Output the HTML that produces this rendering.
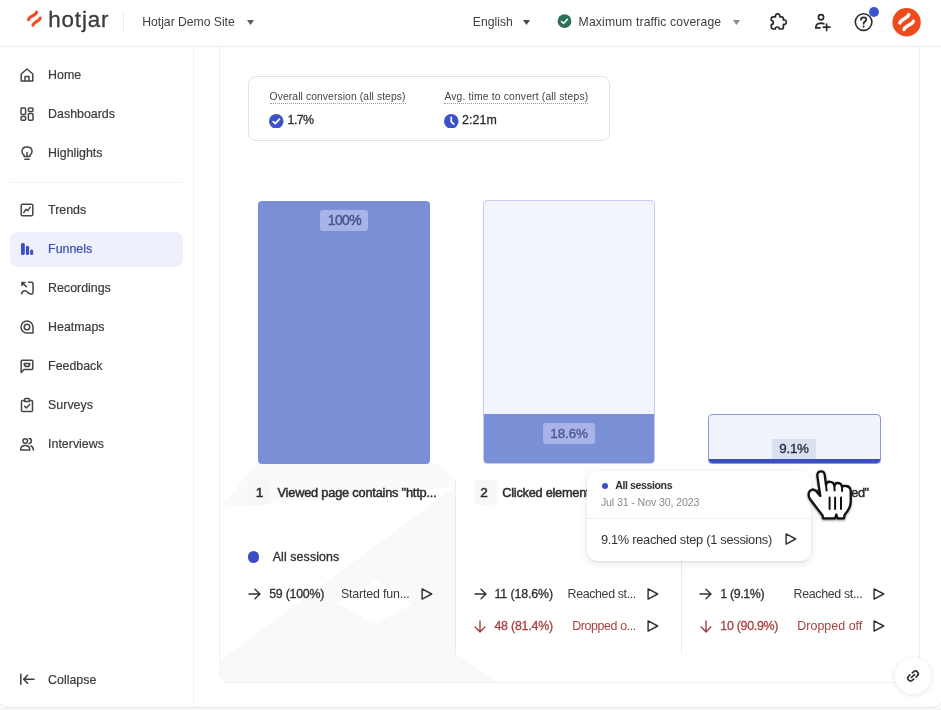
<!DOCTYPE html>
<html><head><meta charset="utf-8"><style>
html,body{margin:0;padding:0;}
body{width:941px;height:710px;position:relative;overflow:hidden;background:#fff;font-family:"Liberation Sans",sans-serif;}
.t{position:absolute;white-space:nowrap;}
#w{position:absolute;left:0;top:0;width:941px;height:710px;will-change:transform;}
</style></head><body><div id="w">
<div style="position:absolute;left:218.5px;top:30px;width:701.5px;height:653px;border:1px solid #f0f0f0;border-radius:10px;box-sizing:border-box"></div>
<div style="position:absolute;left:0;top:0;width:941px;height:46px;background:#fff"></div>
<div style="position:absolute;left:0;top:46px;width:941px;height:1px;background:#ebebeb"></div>
<svg style="position:absolute;left:20px;top:5px" width="30" height="30" viewBox="0 0 30 30">
<path d="M8.5 14.6 C9.5 10.6 15.6 11.2 16.6 7.2" stroke="#f04a1d" stroke-width="3.1" fill="none" stroke-linecap="round"/>
<path d="M12.9 20.2 C13.9 16.2 19.2 17.1 20.2 13.1" stroke="#f04a1d" stroke-width="3.1" fill="none" stroke-linecap="round"/>
</svg>
<div class="t" style="left:48.30px;top:9.00px;font-size:22.4px;line-height:22.4px;color:#3a3a3a;font-weight:normal;letter-spacing:0.828px;-webkit-text-stroke:0.3px #3a3a3a;">hotjar</div>
<div style="position:absolute;left:123px;top:11px;width:1px;height:21px;background:#ececec"></div>
<div class="t" style="left:142.30px;top:16.00px;font-size:12.2px;line-height:12.2px;color:#3f3f3f;font-weight:normal;letter-spacing:-0.024px;">Hotjar Demo Site</div>
<svg style="position:absolute;left:246.5px;top:19.6px" width="7" height="5" viewBox="0 0 7 5"><path d="M0 0 L7 0 L3.5 5 Z" fill="#5a5a5a"/></svg>
<div class="t" style="left:472.80px;top:16.00px;font-size:12.2px;line-height:12.2px;color:#3f3f3f;font-weight:normal;letter-spacing:-0.002px;">English</div>
<svg style="position:absolute;left:523.3px;top:19.6px" width="7" height="5" viewBox="0 0 7 5"><path d="M0 0 L7 0 L3.5 5 Z" fill="#4a4a4a"/></svg>
<svg style="position:absolute;left:556.5px;top:14px" width="15" height="15" viewBox="0 0 15 15"><circle cx="7.5" cy="7.2" r="6.9" fill="#2f6e5c"/><path d="M4.5 7.5 L6.6 9.5 L10.4 5.3" stroke="#fff" stroke-width="1.5" fill="none" stroke-linecap="round" stroke-linejoin="round"/></svg>
<div class="t" style="left:578.60px;top:16.00px;font-size:12.2px;line-height:12.2px;color:#3f3f3f;font-weight:normal;letter-spacing:0.140px;">Maximum traffic coverage</div>
<svg style="position:absolute;left:732.8px;top:19.6px" width="7" height="5" viewBox="0 0 7 5"><path d="M0 0 L7 0 L3.5 5 Z" fill="#8a8a8a"/></svg>
<svg style="position:absolute;left:769px;top:12px" width="20" height="20" viewBox="0 0 20 20"><path d="M4.3 4.9 L6.5 4.9 A2.3 2.3 0 1 1 10.9 4.9 L12.4 4.9 Q14.4 4.9 14.4 6.9 L14.4 8 A2.3 2.3 0 1 1 14.4 12.4 L14.4 15 Q14.4 17 12.4 17 L10.3 17 A2 2 0 1 0 6.3 17 L4.3 17 Q2.3 17 2.3 15 L2.3 12.5 A2 2 0 1 0 2.3 8.5 L2.3 6.9 Q2.3 4.9 4.3 4.9 Z" stroke="#2b2b2b" stroke-width="1.7" fill="none" stroke-linejoin="round"/></svg>
<svg style="position:absolute;left:813px;top:12px" width="19" height="20" viewBox="0 0 19 20"><circle cx="8" cy="5.3" r="2.6" stroke="#2b2b2b" stroke-width="1.7" fill="none"/><path d="M2.8 15.8 Q2.8 11.4 7.8 11.2 Q9.6 11.2 10.8 11.8" stroke="#2b2b2b" stroke-width="1.7" fill="none" stroke-linecap="round"/><path d="M2.8 15.8 L7 15.8" stroke="#2b2b2b" stroke-width="1.7" stroke-linecap="round"/><path d="M13.6 12 L13.6 18.4 M10.4 15.2 L16.8 15.2" stroke="#2b2b2b" stroke-width="1.7" stroke-linecap="round"/></svg>
<svg style="position:absolute;left:853.8px;top:11.8px" width="20" height="20" viewBox="0 0 20 20"><circle cx="9.6" cy="10.1" r="8.3" stroke="#2b2b2b" stroke-width="1.6" fill="none"/><path d="M7 7.8 Q7 5.3 9.6 5.3 Q12.2 5.3 12.2 7.6 Q12.2 9.1 10.6 9.9 Q9.6 10.4 9.6 11.8" stroke="#2b2b2b" stroke-width="1.8" fill="none" stroke-linecap="round"/><circle cx="9.6" cy="14.6" r="1.05" fill="#2b2b2b"/></svg>
<div style="position:absolute;left:869px;top:6.5px;width:10px;height:10px;border-radius:50%;background:#3b55d0"></div>
<svg style="position:absolute;left:891.5px;top:7.5px" width="29" height="29" viewBox="0 0 29 29"><circle cx="14.6" cy="14.2" r="14.2" fill="#ef4a1c"/>
<path d="M7.8 15 C9 10.5 15.7 11 16.9 6.5" stroke="#fff" stroke-width="3.3" fill="none" stroke-linecap="round"/>
<path d="M12 21.6 C13.2 17.1 20.2 17.6 21.4 13.1" stroke="#fff" stroke-width="3.3" fill="none" stroke-linecap="round"/></svg>
<div style="position:absolute;left:193px;top:47px;width:1px;height:660px;background:#f2f2f2"></div>
<div style="position:absolute;left:10px;top:181.5px;width:173px;height:1px;background:#f0f0f0"></div>
<div style="position:absolute;left:10px;top:231.5px;width:173px;height:35px;border-radius:8px;background:#eef0fb"></div>
<div class="t" style="left:48.10px;top:69.00px;font-size:12.4px;line-height:12.4px;color:#3b3b3b;font-weight:normal;letter-spacing:0.000px;-webkit-text-stroke:0.2px #3b3b3b;">Home</div>
<div class="t" style="left:48.10px;top:108.00px;font-size:12.4px;line-height:12.4px;color:#3b3b3b;font-weight:normal;letter-spacing:0.000px;-webkit-text-stroke:0.2px #3b3b3b;">Dashboards</div>
<div class="t" style="left:48.10px;top:147.00px;font-size:12.4px;line-height:12.4px;color:#3b3b3b;font-weight:normal;letter-spacing:0.000px;-webkit-text-stroke:0.2px #3b3b3b;">Highlights</div>
<div class="t" style="left:48.10px;top:204.00px;font-size:12.4px;line-height:12.4px;color:#3b3b3b;font-weight:normal;letter-spacing:0.000px;-webkit-text-stroke:0.2px #3b3b3b;">Trends</div>
<div class="t" style="left:48.10px;top:243.00px;font-size:12.4px;line-height:12.4px;color:#3a4db3;font-weight:normal;letter-spacing:0.000px;-webkit-text-stroke:0.2px #3a4db3;">Funnels</div>
<div class="t" style="left:48.10px;top:282.00px;font-size:12.4px;line-height:12.4px;color:#3b3b3b;font-weight:normal;letter-spacing:0.000px;-webkit-text-stroke:0.2px #3b3b3b;">Recordings</div>
<div class="t" style="left:48.10px;top:321.00px;font-size:12.4px;line-height:12.4px;color:#3b3b3b;font-weight:normal;letter-spacing:0.000px;-webkit-text-stroke:0.2px #3b3b3b;">Heatmaps</div>
<div class="t" style="left:48.10px;top:360.00px;font-size:12.4px;line-height:12.4px;color:#3b3b3b;font-weight:normal;letter-spacing:0.000px;-webkit-text-stroke:0.2px #3b3b3b;">Feedback</div>
<div class="t" style="left:48.10px;top:399.00px;font-size:12.4px;line-height:12.4px;color:#3b3b3b;font-weight:normal;letter-spacing:0.000px;-webkit-text-stroke:0.2px #3b3b3b;">Surveys</div>
<div class="t" style="left:48.10px;top:438.00px;font-size:12.4px;line-height:12.4px;color:#3b3b3b;font-weight:normal;letter-spacing:0.000px;-webkit-text-stroke:0.2px #3b3b3b;">Interviews</div>
<div class="t" style="left:48.10px;top:674.00px;font-size:12.4px;line-height:12.4px;color:#3b3b3b;font-weight:normal;letter-spacing:0.000px;-webkit-text-stroke:0.2px #3b3b3b;">Collapse</div>
<svg style="position:absolute;left:19px;top:67px" width="16" height="16" viewBox="0 0 16 16" fill="none" stroke="#454545" stroke-width="1.5" stroke-linejoin="round" stroke-linecap="round"><path d="M2.2 7 L8 2 L13.8 7 L13.8 14 L2.2 14 Z"/><path d="M6 14 L6 9.5 L10 9.5 L10 14"/></svg>
<svg style="position:absolute;left:19px;top:106px" width="16" height="16" viewBox="0 0 16 16" fill="none" stroke="#454545" stroke-width="1.5" stroke-linejoin="round" stroke-linecap="round"><rect x="2" y="2" width="4.6" height="6.6" rx="1"/><rect x="2" y="10.6" width="4.6" height="3.6" rx="1"/><rect x="9.4" y="2" width="4.6" height="3.6" rx="1"/><rect x="9.4" y="7.6" width="4.6" height="6.6" rx="1"/></svg>
<svg style="position:absolute;left:19px;top:145px" width="16" height="16" viewBox="0 0 16 16" fill="none" stroke="#454545" stroke-width="1.5" stroke-linejoin="round" stroke-linecap="round"><path d="M5 10.2 Q3 8.8 3 6.4 Q3 2 8 2 Q13 2 13 6.4 Q13 8.8 11 10.2 L11 11.6 L5 11.6 Z"/><path d="M8 11.5 L8 7.5"/><path d="M5.8 14.2 L10.2 14.2"/></svg>
<svg style="position:absolute;left:19px;top:202px" width="16" height="16" viewBox="0 0 16 16" fill="none" stroke="#454545" stroke-width="1.5" stroke-linejoin="round" stroke-linecap="round"><rect x="2.2" y="2.2" width="11.6" height="11.6" rx="1.4"/><path d="M4.8 10.6 L7 7.2 L8.8 8.8 L11.2 5.2"/></svg>
<svg style="position:absolute;left:19px;top:241px" width="16" height="16" viewBox="0 0 16 16" fill="#3a4fc0"><rect x="2" y="2" width="3.8" height="12" rx="1.6"/><rect x="6.9" y="4.7" width="3.2" height="9.3" rx="1.5"/><rect x="11.1" y="8.4" width="3.1" height="5.6" rx="1.5"/></svg>
<svg style="position:absolute;left:19px;top:280px" width="16" height="16" viewBox="0 0 16 16" fill="none" stroke="#454545" stroke-width="1.5" stroke-linejoin="round" stroke-linecap="round"><path d="M9.5 2.2 L12.5 2.2 Q14 2.2 14 3.8 L14 12.5 Q14 14 12.5 14 Q9.5 14 8.2 11.8 Q7 10 4.6 11 Q3 11.8 2.5 13.8"/><path d="M3 2.4 L7.4 6.8 M3 2.4 L3 5.4 M3 2.4 L6 2.4"/></svg>
<svg style="position:absolute;left:19px;top:319px" width="16" height="16" viewBox="0 0 16 16" fill="none" stroke="#454545" stroke-width="1.5" stroke-linejoin="round" stroke-linecap="round"><path d="M14 14 L8 14 A6 6 0 1 1 14 8 Z"/><circle cx="8" cy="8" r="2.8"/></svg>
<svg style="position:absolute;left:19px;top:358px" width="16" height="16" viewBox="0 0 16 16" fill="none" stroke="#454545" stroke-width="1.5" stroke-linejoin="round" stroke-linecap="round"><path d="M2.2 14.4 L2.2 3.2 Q2.2 2.2 3.2 2.2 L12.8 2.2 Q13.8 2.2 13.8 3.2 L13.8 10.4 Q13.8 11.4 12.8 11.4 L5 11.4 Z"/><path d="M5.2 5.4 L10.8 5.4 Q10.8 8.6 8 8.6 Q5.2 8.6 5.2 5.4 Z"/></svg>
<svg style="position:absolute;left:19px;top:397px" width="16" height="16" viewBox="0 0 16 16" fill="none" stroke="#454545" stroke-width="1.5" stroke-linejoin="round" stroke-linecap="round"><path d="M5.6 3.5 L3.5 3.5 Q2.5 3.5 2.5 4.5 L2.5 13.5 Q2.5 14.5 3.5 14.5 L12.5 14.5 Q13.5 14.5 13.5 13.5 L13.5 4.5 Q13.5 3.5 12.5 3.5 L10.4 3.5"/><path d="M5.6 4.6 L5.6 2.5 Q5.6 1.6 6.5 1.6 L9.5 1.6 Q10.4 1.6 10.4 2.5 L10.4 4.6 Z"/><path d="M5.6 9.2 L7.3 10.9 L10.6 7.4"/></svg>
<svg style="position:absolute;left:19px;top:436px" width="16" height="16" viewBox="0 0 16 16" fill="none" stroke="#454545" stroke-width="1.5" stroke-linejoin="round" stroke-linecap="round"><circle cx="6.2" cy="5" r="2.3"/><path d="M10 2.6 A2.3 2.3 0 1 1 10 7.4"/><path d="M1.6 14 Q1.6 9.6 6.2 9.6 Q10.8 9.6 10.8 14 Z"/><path d="M12 10 Q14.4 10.8 14.4 14"/></svg>
<svg style="position:absolute;left:19px;top:672px" width="16" height="14" viewBox="0 0 16 14" fill="none" stroke="#3b3b3b" stroke-width="1.5" stroke-linecap="round" stroke-linejoin="round"><path d="M1.8 2.2 L1.8 12.2"/><path d="M15 7.2 L4.6 7.2 M8.6 3.2 L4.6 7.2 L8.6 11.2"/></svg>
<svg style="position:absolute;left:0;top:0" width="941" height="710" viewBox="0 0 941 710">
<path fill-rule="evenodd" d="M219.5 661 L455 487 L455 653 L497 682 L229 682 Q219.5 682 219.5 672 Z M338 603 L376 580 L412 604.6 L374 624 Z" fill="#f8f9fb"/>
<path d="M257 463 L437 463 L455 478 L455 487 L219.5 508 Z" fill="#f9fafc"/>
</svg>
<div style="position:absolute;left:247.5px;top:76px;width:362px;height:64.5px;border:1px solid #e3e3e3;border-radius:8px;box-sizing:border-box"></div>
<div class="t" style="left:269.60px;top:92.00px;font-size:10.3px;line-height:10.3px;color:#444;font-weight:normal;letter-spacing:0.107px;">Overall conversion (all steps)</div>
<div style="position:absolute;left:269.6px;top:102.5px;width:136px;height:0;border-top:1px dotted #9a9a9a"></div>
<div class="t" style="left:444.40px;top:92.00px;font-size:10.3px;line-height:10.3px;color:#444;font-weight:normal;letter-spacing:0.177px;">Avg. time to convert (all steps)</div>
<div style="position:absolute;left:444.4px;top:102.5px;width:144px;height:0;border-top:1px dotted #9a9a9a"></div>
<svg style="position:absolute;left:269px;top:113.5px" width="14.5" height="14.5" viewBox="0 0 14 14"><circle cx="7" cy="7" r="7" fill="#3b53c6"/><path d="M4 7.3 L6.1 9.3 L10 5" stroke="#fff" stroke-width="1.7" fill="none" stroke-linecap="round" stroke-linejoin="round"/></svg>
<div class="t" style="left:287.60px;top:114.00px;font-size:12.4px;line-height:12.4px;color:#2e2e2e;font-weight:normal;letter-spacing:-0.566px;-webkit-text-stroke:0.3px #2e2e2e;">1.7%</div>
<svg style="position:absolute;left:444.4px;top:113.5px" width="14.5" height="14.5" viewBox="0 0 14 14"><circle cx="7" cy="7" r="7" fill="#3b53c6"/><path d="M7 3.2 L7 7.4 L9.4 9.8" stroke="#fff" stroke-width="1.7" fill="none" stroke-linecap="round" stroke-linejoin="round"/></svg>
<div class="t" style="left:462.00px;top:114.00px;font-size:12.4px;line-height:12.4px;color:#2e2e2e;font-weight:normal;letter-spacing:0.107px;-webkit-text-stroke:0.3px #2e2e2e;">2:21m</div>
<div style="position:absolute;left:258px;top:200.5px;width:172px;height:263px;border-radius:4px;background:#7b8fd7"></div>
<div style="position:absolute;left:319.7px;top:209.6px;width:48.6px;height:21px;border-radius:3px;background:#a8b4e7"></div>
<div class="t" style="left:327.70px;top:213.00px;font-size:14px;line-height:14px;color:#4b5690;font-weight:normal;letter-spacing:-0.577px;-webkit-text-stroke:0.5px #4b5690;">100%</div>
<div style="position:absolute;left:482.8px;top:200px;width:172.7px;height:263.5px;border-radius:4px;background:#f3f5fc;border:1px solid #c3ccee;box-sizing:border-box;overflow:hidden"><div style="position:absolute;left:0;right:0;bottom:0;height:49px;background:#7b8fd7"></div></div>
<div style="position:absolute;left:542.9px;top:423.4px;width:52.5px;height:20.8px;border-radius:3px;background:#a8b4e7"></div>
<div class="t" style="left:550.30px;top:427.00px;font-size:13.4px;line-height:13.4px;color:#4b5690;font-weight:normal;letter-spacing:-0.059px;-webkit-text-stroke:0.35px #4b5690;">18.6%</div>
<div style="position:absolute;left:708px;top:413.8px;width:173px;height:49.8px;border-radius:4px;background:#f1f3fb;border:1px solid #8a9ad9;box-sizing:border-box;overflow:hidden"><div style="position:absolute;left:0;right:0;bottom:0;height:4px;background:#3b4fc4"></div></div>
<div style="position:absolute;left:772px;top:439px;width:44px;height:20px;background:#dadff2"></div>
<div class="t" style="left:779.30px;top:442.00px;font-size:13.4px;line-height:13.4px;color:#2a2d3a;font-weight:normal;letter-spacing:-0.286px;-webkit-text-stroke:0.35px #2a2d3a;">9.1%</div>
<div style="position:absolute;left:455px;top:480px;width:1px;height:174px;background:#ececec"></div>
<div style="position:absolute;left:680.5px;top:480px;width:1px;height:174px;background:#ececec"></div>
<div style="position:absolute;left:247.7px;top:480.3px;width:22.8px;height:24.5px;border-radius:5px;background:#f6f7f9"></div>
<div style="position:absolute;left:474.3px;top:480.3px;width:22.8px;height:24.5px;border-radius:5px;background:#f6f7f9"></div>
<div style="position:absolute;left:699.5px;top:480.3px;width:22.8px;height:24.5px;border-radius:5px;background:#f6f7f9"></div>
<div class="t" style="left:255.80px;top:486.00px;font-size:13.6px;line-height:13.6px;color:#2b2b2b;font-weight:normal;letter-spacing:0.000px;-webkit-text-stroke:0.5px #2b2b2b;">1</div>
<div class="t" style="left:277.50px;top:487.00px;font-size:12.8px;line-height:12.8px;color:#2b2b2b;font-weight:normal;letter-spacing:-0.211px;-webkit-text-stroke:0.45px #2b2b2b;">Viewed page contains &quot;http...</div>
<div class="t" style="left:480.20px;top:486.00px;font-size:13.6px;line-height:13.6px;color:#2b2b2b;font-weight:normal;letter-spacing:0.000px;-webkit-text-stroke:0.5px #2b2b2b;">2</div>
<div class="t" style="left:502.30px;top:487.00px;font-size:12.8px;line-height:12.8px;color:#2b2b2b;font-weight:normal;letter-spacing:-0.272px;-webkit-text-stroke:0.45px #2b2b2b;">Clicked element contains</div>
<div class="t" style="left:721.00px;top:487.00px;font-size:12.8px;line-height:12.8px;color:#2b2b2b;font-weight:normal;letter-spacing:-0.538px;-webkit-text-stroke:0.45px #2b2b2b;">Viewed page contains &quot;...ed&quot;</div>
<div style="position:absolute;left:247.5px;top:551px;width:11.5px;height:11.5px;border-radius:50%;background:#3b4fc4"></div>
<div class="t" style="left:272.70px;top:551.00px;font-size:12.4px;line-height:12.4px;color:#2e2e2e;font-weight:normal;letter-spacing:0.103px;-webkit-text-stroke:0.3px #2e2e2e;">All sessions</div>
<svg style="position:absolute;left:248.2px;top:588px" width="13" height="12" viewBox="0 0 13 12" fill="none" stroke="#333" stroke-width="1.4" stroke-linecap="round" stroke-linejoin="round"><path d="M1 6 L12 6 M7 1.2 L12 6 L7 10.8"/></svg>
<div class="t" style="left:269.20px;top:588.00px;font-size:12.4px;line-height:12.4px;color:#2e2e2e;font-weight:normal;letter-spacing:-0.246px;-webkit-text-stroke:0.3px #2e2e2e;">59 (100%)</div>
<div class="t" style="left:341.00px;top:588.00px;font-size:12.4px;line-height:12.4px;color:#3b3b3b;font-weight:normal;letter-spacing:-0.178px;">Started fun...</div>
<svg style="position:absolute;left:421px;top:588px" width="12" height="12" viewBox="0 0 12 12" fill="none" stroke="#333" stroke-width="1.45" stroke-linejoin="round"><path d="M1.1 0.9 L10.7 6 L1.1 11.1 Z"/></svg>
<svg style="position:absolute;left:473.5px;top:588px" width="13" height="12" viewBox="0 0 13 12" fill="none" stroke="#333" stroke-width="1.4" stroke-linecap="round" stroke-linejoin="round"><path d="M1 6 L12 6 M7 1.2 L12 6 L7 10.8"/></svg>
<div class="t" style="left:494.40px;top:588.00px;font-size:12.4px;line-height:12.4px;color:#2e2e2e;font-weight:normal;letter-spacing:-0.104px;-webkit-text-stroke:0.3px #2e2e2e;">11 (18.6%)</div>
<div class="t" style="left:567.60px;top:588.00px;font-size:12.4px;line-height:12.4px;color:#3b3b3b;font-weight:normal;letter-spacing:-0.359px;">Reached st...</div>
<svg style="position:absolute;left:647px;top:588px" width="12" height="12" viewBox="0 0 12 12" fill="none" stroke="#333" stroke-width="1.45" stroke-linejoin="round"><path d="M1.1 0.9 L10.7 6 L1.1 11.1 Z"/></svg>
<svg style="position:absolute;left:474.2px;top:620px" width="12" height="13" viewBox="0 0 12 13" fill="none" stroke="#a5403f" stroke-width="1.4" stroke-linecap="round" stroke-linejoin="round"><path d="M6 1 L6 12 M1.2 7 L6 12 L10.8 7"/></svg>
<div class="t" style="left:494.40px;top:620.00px;font-size:12.4px;line-height:12.4px;color:#a8403f;font-weight:normal;letter-spacing:-0.206px;-webkit-text-stroke:0.3px #a8403f;">48 (81.4%)</div>
<div class="t" style="left:572.20px;top:620.00px;font-size:12.4px;line-height:12.4px;color:#a8403f;font-weight:normal;letter-spacing:-0.370px;">Dropped o...</div>
<svg style="position:absolute;left:647px;top:620px" width="12" height="12" viewBox="0 0 12 12" fill="none" stroke="#333" stroke-width="1.45" stroke-linejoin="round"><path d="M1.1 0.9 L10.7 6 L1.1 11.1 Z"/></svg>
<svg style="position:absolute;left:699px;top:588px" width="13" height="12" viewBox="0 0 13 12" fill="none" stroke="#333" stroke-width="1.4" stroke-linecap="round" stroke-linejoin="round"><path d="M1 6 L12 6 M7 1.2 L12 6 L7 10.8"/></svg>
<div class="t" style="left:720.30px;top:588.00px;font-size:12.4px;line-height:12.4px;color:#2e2e2e;font-weight:normal;letter-spacing:-0.370px;-webkit-text-stroke:0.3px #2e2e2e;">1 (9.1%)</div>
<div class="t" style="left:793.50px;top:588.00px;font-size:12.4px;line-height:12.4px;color:#3b3b3b;font-weight:normal;letter-spacing:-0.320px;">Reached st...</div>
<svg style="position:absolute;left:872.5px;top:588px" width="12" height="12" viewBox="0 0 12 12" fill="none" stroke="#333" stroke-width="1.45" stroke-linejoin="round"><path d="M1.1 0.9 L10.7 6 L1.1 11.1 Z"/></svg>
<svg style="position:absolute;left:699.5px;top:620px" width="12" height="13" viewBox="0 0 12 13" fill="none" stroke="#a5403f" stroke-width="1.4" stroke-linecap="round" stroke-linejoin="round"><path d="M6 1 L6 12 M1.2 7 L6 12 L10.8 7"/></svg>
<div class="t" style="left:720.30px;top:620.00px;font-size:12.4px;line-height:12.4px;color:#a8403f;font-weight:normal;letter-spacing:-0.276px;-webkit-text-stroke:0.3px #a8403f;">10 (90.9%)</div>
<div class="t" style="left:797.30px;top:620.00px;font-size:12.4px;line-height:12.4px;color:#a8403f;font-weight:normal;letter-spacing:0.048px;">Dropped off</div>
<svg style="position:absolute;left:872.5px;top:620px" width="12" height="12" viewBox="0 0 12 12" fill="none" stroke="#333" stroke-width="1.45" stroke-linejoin="round"><path d="M1.1 0.9 L10.7 6 L1.1 11.1 Z"/></svg>
<div style="position:absolute;left:587px;top:471.4px;width:224px;height:90px;border-radius:9px;background:#fff;box-shadow:0 2px 8px rgba(0,0,0,0.11),0 1px 2px rgba(0,0,0,0.06),0 0 1px rgba(0,0,0,0.12)"></div>
<div style="position:absolute;left:587px;top:518.3px;width:224px;height:1px;background:#efefef"></div>
<div style="position:absolute;left:601.7px;top:483px;width:6px;height:6px;border-radius:50%;background:#3b4fc4"></div>
<div class="t" style="left:615.20px;top:480.00px;font-size:10.6px;line-height:10.6px;color:#2e2e2e;font-weight:bold;letter-spacing:-0.405px;">All sessions</div>
<div class="t" style="left:600.90px;top:497.00px;font-size:10.6px;line-height:10.6px;color:#8a8a8a;font-weight:normal;letter-spacing:-0.108px;">Jul 31 - Nov 30, 2023</div>
<div class="t" style="left:600.90px;top:534.00px;font-size:12.8px;line-height:12.8px;color:#333;font-weight:normal;letter-spacing:-0.276px;">9.1% reached step (1 sessions)</div>
<svg style="position:absolute;left:785.2px;top:533.4px" width="12" height="12" viewBox="0 0 12 12" fill="none" stroke="#333" stroke-width="1.45" stroke-linejoin="round"><path d="M1.1 0.9 L10.7 6 L1.1 11.1 Z"/></svg>
<div style="position:absolute;left:895px;top:658px;width:36px;height:36px;border-radius:50%;background:#fff;box-shadow:0 1px 6px rgba(0,0,0,0.10)"></div>
<svg style="position:absolute;left:903px;top:666px" width="20" height="20" viewBox="0 0 20 20" fill="none" stroke="#333" stroke-width="1.7" stroke-linecap="round"><g transform="rotate(-42 10 10)"><path d="M8.4 7.2 H6.8 A2.8 2.8 0 0 0 6.8 12.8 H8.4"/><path d="M11.6 7.2 H13.2 A2.8 2.8 0 0 1 13.2 12.8 H11.6"/><path d="M7.9 10 H12.1"/></g></svg>
<svg style="position:absolute;left:800px;top:465px;filter:drop-shadow(0.8px 1.6px 1.2px rgba(0,0,0,0.45))" width="60" height="60" viewBox="0 0 60 60">
<path d="M17.3 10.5 Q17.5 6.3 21 6.3 Q24.5 6.3 24.8 10.5 L26 20 Q26.5 16.5 30.2 16.8 Q33.8 17.2 34.4 21 Q35 17.8 38 18 Q41.5 18.2 42 22 Q43 20.8 46 21 Q50.5 21.5 50.7 26 L50.7 37 Q50.5 43 44.5 50 L44 53.3 L37.5 53.3 L36.3 49.5 L35 53.3 L23 53.3 L22.6 50.5 Q16 42 10 34 Q7.5 30 9.5 26.5 Q12 23.6 15.5 25.5 L20.3 31 Z" fill="#fff" stroke="#111" stroke-width="2.3" stroke-linejoin="round"/>
<path d="M26 20 L26.6 25.5 M34.4 21 L34.6 25.5 M42 22 L42.1 26" stroke="#111" stroke-width="2" stroke-linecap="round"/>
<path d="M29.6 32.5 L29.6 44 M35.1 32.5 L35.1 44 M41 32.5 L41 44" stroke="#111" stroke-width="2" stroke-linecap="round"/>
</svg>
<div style="position:absolute;left:-2px;top:-40px;width:945px;height:747.5px;border:1px solid #e6e6e6;border-radius:9px;box-sizing:border-box;pointer-events:none"></div>
<div style="position:absolute;left:0;top:708px;width:941px;height:2px;background:#f5f5f5"></div>
</div></body></html>
